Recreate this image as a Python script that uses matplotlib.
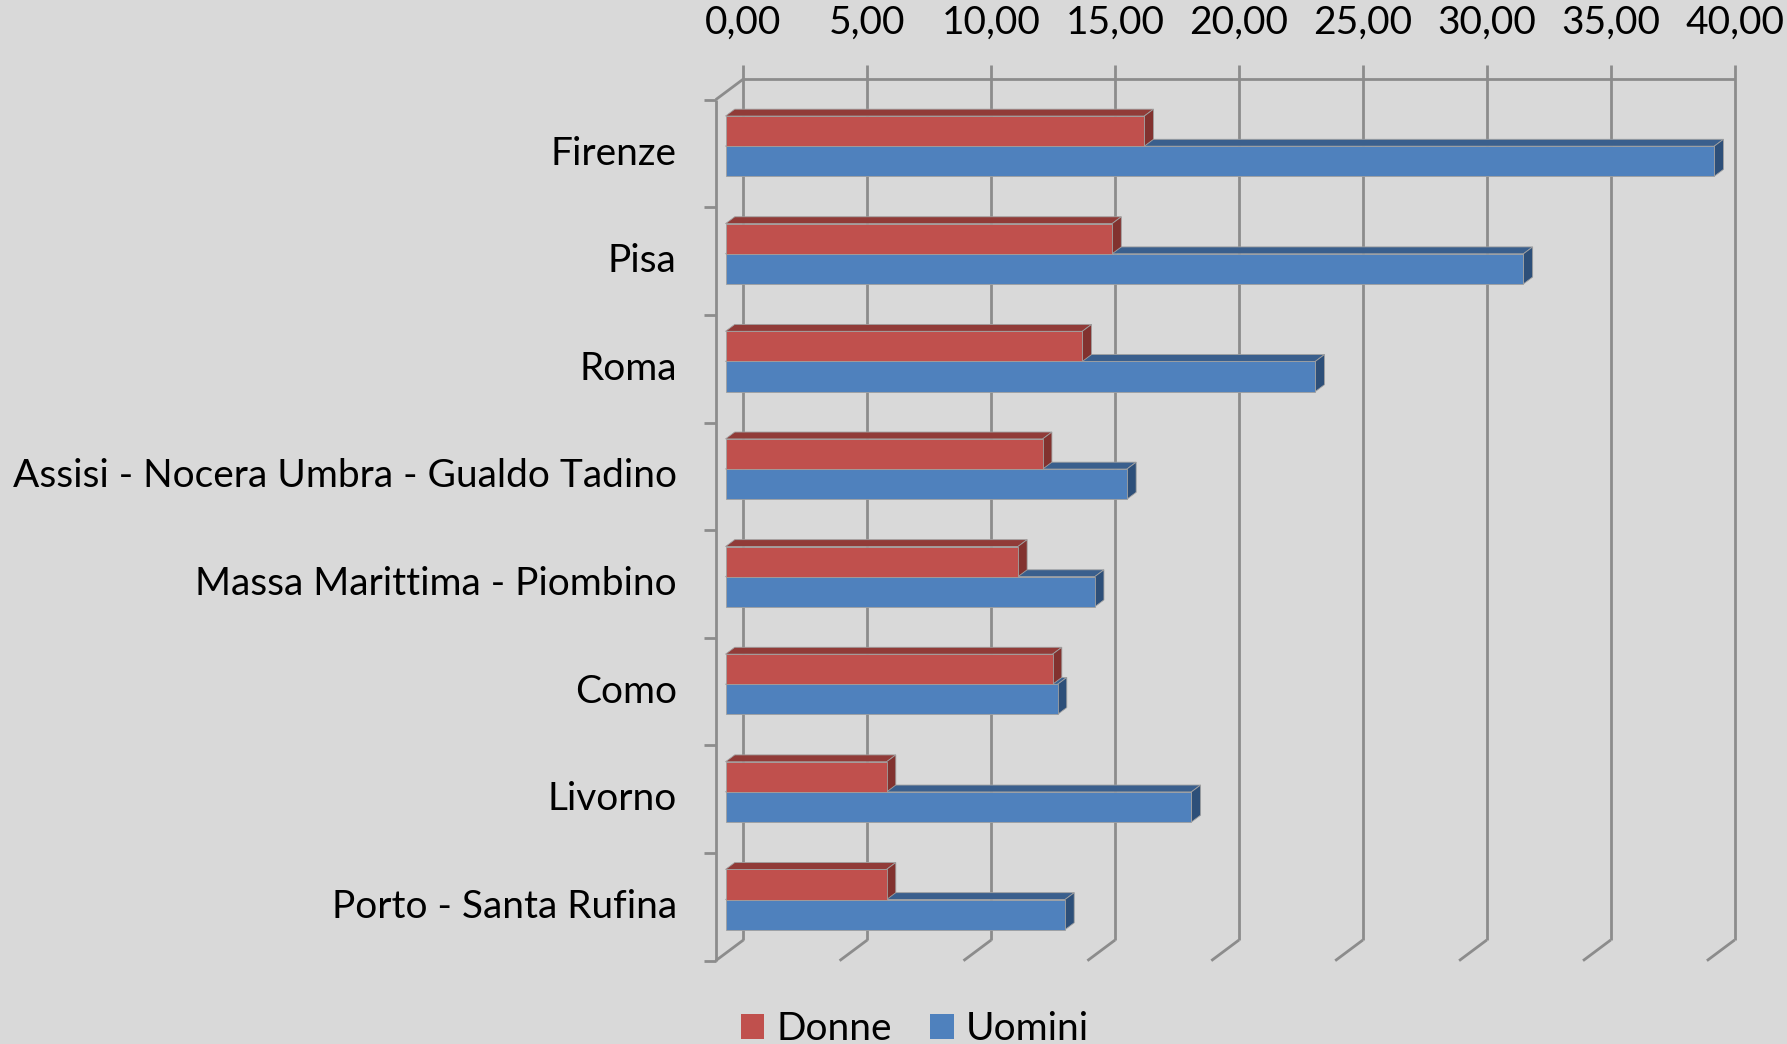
import numpy as np
import matplotlib
matplotlib.use("Agg")
import matplotlib.pyplot as plt
from matplotlib.patches import Polygon, Patch
from matplotlib.lines import Line2D
from matplotlib.transforms import IdentityTransform

plt.rcParams['font.family'] = ['Lato', 'DejaVu Sans']

categories = ["Firenze", "Pisa", "Roma", "Assisi - Nocera Umbra - Gualdo Tadino",
              "Massa Marittima - Piombino", "Como", "Livorno", "Porto - Santa Rufina"]
donne = [16.9, 15.6, 14.4, 12.8, 11.8, 13.2, 6.5, 6.5]
uomini = [39.9, 32.2, 23.8, 16.2, 14.9, 13.4, 18.8, 13.7]
xticks = [0, 5, 10, 15, 20, 25, 30, 35, 40]
xticklabels = ["0,00", "5,00", "10,00", "15,00", "20,00", "25,00", "30,00", "35,00", "40,00"]

BG = "#D9D9D9"
GRID = "#8C8C8C"
RED = ("#C0504D", "#913B38", "#82322F")    # front, top, side
BLUE = ("#4F81BD", "#3A5F8D", "#2D4F79")
FS = 28

# oblique depth offset in pixels (display coords, y up)
DX, DY = 27.7, 20.7
D0, D1 = 0.354, 0.687   # bar depth range
BH = 0.28               # bar height (category units)

W, H = 1787, 1044
fig = plt.figure(figsize=(W / 100, H / 100), dpi=100, facecolor=BG)
ax = fig.add_axes([715.7 / W, (H - 960.7) / H, 991.2 / W, 861 / H])
ax.set_xlim(0, 40)
ax.set_ylim(7.5, -0.5)
ax.set_axis_off()


def proj(xs, ys, d):
    pts = ax.transData.transform(np.column_stack([np.atleast_1d(xs), np.atleast_1d(ys)]).astype(float))
    d = np.broadcast_to(np.asarray(d, float), (len(pts),))
    pts[:, 0] += DX * d
    pts[:, 1] += DY * d
    return pts


def line(pts, **kw):
    fig.add_artist(Line2D(pts[:, 0], pts[:, 1], transform=IdentityTransform(),
                          color=GRID, lw=2, solid_capstyle="butt", zorder=1, **kw))


# back wall gridlines + floor diagonals
for v in xticks:
    p = proj([v, v], [7.5, -0.5], 1)
    p[1, 1] += 14
    line(p)
    line(proj([v, v], [7.5, 7.5], [1, 0]))
line(proj([0, 40], [-0.5, -0.5], 1))
line(proj([0, 0], [-0.5, -0.5], [1, 0]))
line(proj([0, 0], [-0.5, 7.5], 0))
for k in range(len(categories) + 1):
    p = proj([0, 0], [k - 0.5, k - 0.5], 0)
    p[0, 0] -= 12
    line(p)


def bar3d(v, y_top, y_bot, cols, z):
    front = proj([0, v, v, 0], [y_top, y_top, y_bot, y_bot], D0)
    top = proj([0, v, v, 0], [y_top, y_top, y_top, y_top], [D0, D0, D1, D1])
    side = proj([v, v, v, v], [y_top, y_bot, y_bot, y_top], [D0, D0, D1, D1])
    for pts, c in [(top, cols[1]), (side, cols[2]), (front, cols[0])]:
        fig.add_artist(Polygon(pts, closed=True, transform=IdentityTransform(),
                               facecolor=c, edgecolor="#A0A0A0", lw=0.6, zorder=z))


for i in range(len(categories)):
    bar3d(uomini[i], i, i + BH, BLUE, 3 + i * 2)
    bar3d(donne[i], i - BH, i, RED, 4 + i * 2)

# axis labels
for v, lbl in zip(xticks, xticklabels):
    ax.annotate(lbl, xy=(v, -0.5), xytext=(DX * 0.72, (DY + 56) * 0.72),
                textcoords="offset points", ha="center", va="center", fontsize=FS)
for i, name in enumerate(categories):
    ax.annotate(name, xy=(0, i), xytext=(-39 * 0.72, 0), textcoords="offset points",
                ha="right", va="center", fontsize=FS)

handles = [Patch(facecolor=RED[0], label="Donne"), Patch(facecolor=BLUE[0], label="Uomini")]
fig.legend(handles=handles, loc="center left", bbox_to_anchor=(741 / W, (H - 1029) / H),
           ncol=2, frameon=False, fontsize=FS, borderpad=0, borderaxespad=0,
           handlelength=0.6, handleheight=0.6, handletextpad=0.3, columnspacing=1.0)

fig.savefig("out.png", dpi=100, facecolor=BG)
